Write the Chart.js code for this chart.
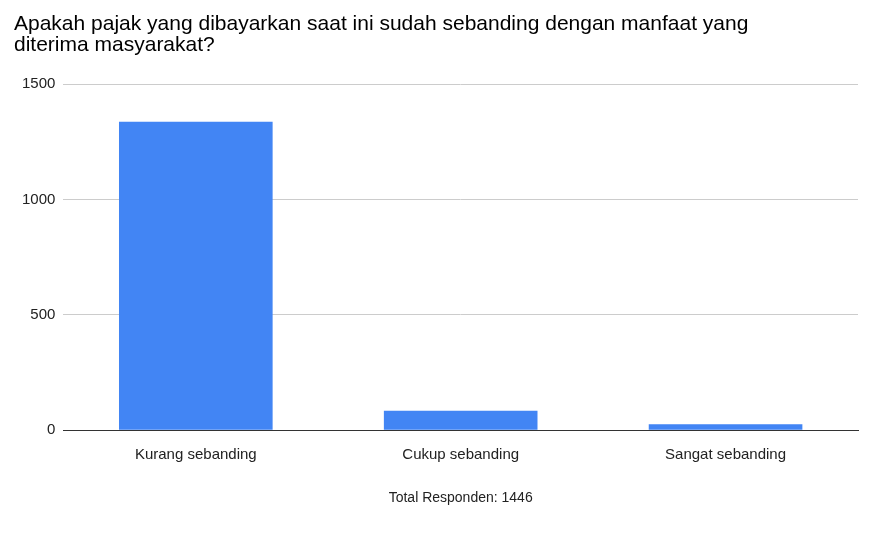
<!DOCTYPE html>
<html><head><meta charset="utf-8">
<script src="https://cdn.jsdelivr.net/npm/chart.js@4"></script>
<style>html,body{margin:0;background:#fff}#w{width:890px;height:533px;position:relative}</style>
</head><body><div id="w"><canvas id="c"></canvas></div>
<script>
const categories=["Kurang sebanding","Cukup sebanding","Sangat sebanding"];
const values=[1336,84,26];
const yTicks=[0,500,1000,1500];
const titleLines=["Apakah pajak yang dibayarkan saat ini sudah sebanding dengan manfaat yang","diterima masyarakat?"];
const xTitle="Total Responden: 1446";
const F="'Liberation Sans', Arial, sans-serif";
new Chart(document.getElementById('c'),{
type:'bar',
data:{labels:categories,datasets:[{data:values,backgroundColor:'#4285f4',barPercentage:0.58,categoryPercentage:1}]},
options:{responsive:true,maintainAspectRatio:false,animation:false,
layout:{padding:{left:14,right:32,top:0,bottom:22}},
plugins:{legend:{display:false},tooltip:{enabled:false},
title:{display:true,text:titleLines,align:'start',color:'#000',font:{family:F,size:21,weight:'normal',lineHeight:1.0},padding:{top:14,bottom:28},fullSize:true}},
scales:{
x:{grid:{display:false},border:{color:'#333'},ticks:{color:'#222',font:{family:F,size:15},padding:8},
title:{display:true,text:xTitle,color:'#222',font:{family:F,size:14},padding:{top:18}}},
y:{min:0,max:1500,afterBuildTicks:a=>{a.ticks=yTicks.map(v=>({value:v}))},
grid:{color:'#ccc',drawTicks:false},border:{display:false},
ticks:{color:'#222',font:{family:F,size:15},padding:8,callback:v=>String(v)}}
}}});
</script></body></html>
